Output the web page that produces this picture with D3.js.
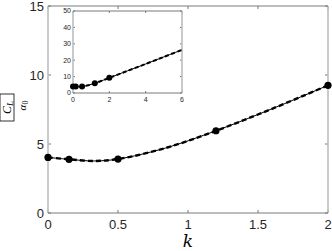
<!DOCTYPE html>
<html lang="en">
<head>
    <meta charset="UTF-8">
    <title>CL / alpha0 vs k</title>
    <script src="https://d3js.org/d3.v7.min.js"></script>
    <style>
        body { margin: 0; background: #fff; }
        svg { display: block; }
        .tick-label { font-family: "Liberation Sans", Arial, sans-serif; fill: #262626; }
    </style>
</head>
<body>
    <svg width="332" height="251"></svg>

    <script>
        // measured points
        let kPoints = [0, 0.15, 0.5, 1.2, 2]
        let clPoints = [4.03, 3.89, 3.91, 5.96, 9.25]

        // fitted curve
        let kCurve = [0, 0.15, 0.33, 0.5, 0.84, 1.2, 1.6, 2]
        let clCurve = [4.03, 3.89, 3.77, 3.91, 4.71, 5.96, 7.55, 9.25]

        // inset: same curve extended to k = 6
        let kInset = [0, 0.15, 0.33, 0.5, 0.84, 1.2, 1.6, 2, 3, 4, 5, 6]
        let clInset = [4.03, 3.89, 3.77, 3.91, 4.71, 5.96, 7.55, 9.25, 13.5, 17.7, 22, 26.3]

        let mainXTicks = [0, 0.5, 1, 1.5, 2]
        let mainYTicks = [0, 5, 10, 15]
        let insetXTicks = [0, 2, 4, 6]
        let insetYTicks = [0, 10, 20, 30, 40, 50]

        let svg = d3.select('svg')

        function drawPanel(opt) {
            let x = d3.scaleLinear().domain(opt.xDomain).range([opt.left, opt.right])
            let y = d3.scaleLinear().domain(opt.yDomain).range([opt.bottom, opt.top])
            let g = svg.append('g')

            g.append('rect')
                .attr('x', opt.left).attr('y', opt.top)
                .attr('width', opt.right - opt.left).attr('height', opt.bottom - opt.top)
                .attr('fill', '#fff')

            // ticks inward on all four sides
            opt.xTicks.forEach((t) => {
                g.append('line').attr('x1', x(t)).attr('x2', x(t))
                    .attr('y1', opt.bottom).attr('y2', opt.bottom - opt.tick)
                    .attr('stroke', '#555').attr('stroke-width', 0.8)
                g.append('line').attr('x1', x(t)).attr('x2', x(t))
                    .attr('y1', opt.top).attr('y2', opt.top + opt.tick)
                    .attr('stroke', '#555').attr('stroke-width', 0.8)
                g.append('text').attr('class', 'tick-label')
                    .attr('x', x(t)).attr('y', opt.bottom + opt.xLabelGap)
                    .attr('text-anchor', 'middle').style('font-size', opt.font + 'px')
                    .text(t)
            })
            opt.yTicks.forEach((t) => {
                g.append('line').attr('x1', opt.left).attr('x2', opt.left + opt.tick)
                    .attr('y1', y(t)).attr('y2', y(t))
                    .attr('stroke', '#555').attr('stroke-width', 0.8)
                g.append('line').attr('x1', opt.right).attr('x2', opt.right - opt.tick)
                    .attr('y1', y(t)).attr('y2', y(t))
                    .attr('stroke', '#555').attr('stroke-width', 0.8)
                g.append('text').attr('class', 'tick-label')
                    .attr('x', opt.left - opt.yLabelGap).attr('y', y(t))
                    .attr('dy', '0.35em')
                    .attr('text-anchor', 'end').style('font-size', opt.font + 'px')
                    .text(t)
            })

            // spines: left/right pale, top/bottom darker
            g.append('line').attr('x1', opt.left).attr('x2', opt.left)
                .attr('y1', opt.top).attr('y2', opt.bottom)
                .attr('stroke', '#bdbdbd').attr('stroke-width', 1.6)
            g.append('line').attr('x1', opt.right).attr('x2', opt.right)
                .attr('y1', opt.top).attr('y2', opt.bottom)
                .attr('stroke', '#bdbdbd').attr('stroke-width', 1.6)
            g.append('line').attr('x1', opt.left).attr('x2', opt.right)
                .attr('y1', opt.top).attr('y2', opt.top)
                .attr('stroke', '#7a7a7a').attr('stroke-width', 1)
            g.append('line').attr('x1', opt.left).attr('x2', opt.right)
                .attr('y1', opt.bottom).attr('y2', opt.bottom)
                .attr('stroke', '#7a7a7a').attr('stroke-width', 1)

            let curve = opt.kCurve.map((k, i) => [k, opt.clCurve[i]])
            let line = d3.line().x((d) => x(d[0])).y((d) => y(d[1])).curve(d3.curveCatmullRom)

            g.append('path').datum(curve).attr('d', line)
                .attr('fill', 'none').attr('stroke', '#000').attr('stroke-width', 1)
            g.append('path').datum(curve).attr('d', line)
                .attr('fill', 'none').attr('stroke', '#000').attr('stroke-width', opt.dashW)
                .attr('stroke-dasharray', opt.dash)

            g.selectAll('circle.pt').data(kPoints).enter().append('circle')
                .attr('class', 'pt')
                .attr('cx', (k) => x(k))
                .attr('cy', (k, i) => y(clPoints[i]))
                .attr('r', opt.r).attr('fill', '#000')
        }

        drawPanel({
            left: 48, right: 328, top: 6, bottom: 213,
            xDomain: [0, 2], yDomain: [0, 15],
            xTicks: mainXTicks, yTicks: mainYTicks,
            kCurve: kCurve, clCurve: clCurve,
            tick: 3, font: 13, xLabelGap: 16, yLabelGap: 4,
            dashW: 2.4, dash: '5,3', r: 3.6
        })

        drawPanel({
            left: 73, right: 182, top: 11, bottom: 93,
            xDomain: [0, 6], yDomain: [0, 50],
            xTicks: insetXTicks, yTicks: insetYTicks,
            kCurve: kInset, clCurve: clInset,
            tick: 2, font: 7, xLabelGap: 9, yLabelGap: 2,
            dashW: 2, dash: '4,2.5', r: 3
        })

        // axis labels
        svg.append('text')
            .attr('x', 188).attr('y', 247)
            .attr('text-anchor', 'middle')
            .style('font-family', '"DejaVu Serif", "Liberation Serif", serif')
            .style('font-style', 'italic').style('font-size', '17px')
            .text('k')

        let yl = svg.append('g').attr('transform', 'translate(14 107.5) rotate(-90)')
        let serif = '"Liberation Serif", "DejaVu Serif", serif'
        let num = yl.append('text').attr('x', 0).attr('y', -3)
            .attr('text-anchor', 'middle')
            .style('font-family', serif).style('font-style', 'italic').style('font-size', '12px')
        num.append('tspan').text('C')
        num.append('tspan').attr('dy', 2).style('font-size', '9px').text('L')
        let den = yl.append('text').attr('x', 2).attr('y', 12)
            .attr('text-anchor', 'middle')
            .style('font-family', serif).style('font-style', 'italic').style('font-size', '11px')
        den.append('tspan').text('α')
        den.append('tspan').attr('dy', 2).style('font-style', 'normal').style('font-size', '8px').text('0')
        // box around the numerator, right edge acts as the fraction bar
        yl.append('rect').attr('x', -13.5).attr('y', -14).attr('width', 27).attr('height', 14)
            .attr('fill', 'none').attr('stroke', '#000').attr('stroke-width', 0.8)
    </script>
</body>
</html>
